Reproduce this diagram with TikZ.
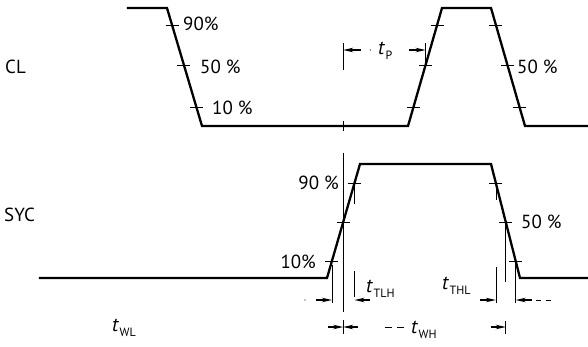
\documentclass[tikz,border=0pt]{standalone}
\usepackage{fontspec}
\setmainfont{PT Sans}
\usetikzlibrary{arrows.meta,calc}
\newcommand\tsym[1]{{\fontsize{20}{20}\selectfont\textit{t}}\kern0.5bp\raisebox{-4.5bp}{\fontsize{12}{12}\selectfont #1}}
\tikzset{
  wave/.style={line width=2.3bp, line join=miter, line cap=rect},
  thin/.style={line width=0.6bp},
  tick/.style={line width=0.6bp},
  dimarrow/.style={line width=1.2bp, -{Stealth[length=10bp,width=4.5bp]}},
  lbl/.style={inner sep=0pt, font=\fontsize{19}{19}\selectfont},
  lblw/.style={lbl, anchor=west},
  lble/.style={lbl, anchor=east},
}
\begin{document}
\begin{tikzpicture}[x=1bp,y=-1bp]
\useasboundingbox (0,0) rectangle (588,346);
% ---- CL waveform
\coordinate (cl0) at (128,8);
\coordinate (cl1) at (167,8);
\coordinate (cl2) at (202,126);
\coordinate (cl3) at (408,126);
\coordinate (cl4) at (442,8);
\coordinate (cl5) at (491,8);
\coordinate (cl6) at (525,126);
\coordinate (cl7) at (590,126);
\draw[wave] (cl0) -- (cl1) -- (cl2) -- (cl3) -- (cl4) -- (cl5) -- (cl6) -- (cl7);
% ticks on CL edges
\path (cl1) -- (cl2) coordinate[pos=0.144] (fa90) coordinate[pos=0.483] (fa50) coordinate[pos=0.839] (fa10);
\path (cl3) -- (cl4) coordinate[pos=0.856] (ra90) coordinate[pos=0.517] (ra50) coordinate[pos=0.161] (ra10);
\path (cl5) -- (cl6) coordinate[pos=0.144] (fb90) coordinate[pos=0.483] (fb50) coordinate[pos=0.839] (fb10);
\foreach \p in {fa90,fa50,fa10,ra90,ra50,ra10,fb90,fb50,fb10}
  \draw[tick] ([xshift=-6.5bp]\p) -- ([xshift=6.5bp]\p);
% ---- SYC waveform
\coordinate (sy0) at (40,278);
\coordinate (sy1) at (327,278);
\coordinate (sy2) at (360,164);
\coordinate (sy3) at (491,164);
\coordinate (sy4) at (520,278);
\coordinate (sy5) at (590,278);
\draw[wave] (sy0) -- (sy1) -- (sy2) -- (sy3) -- (sy4) -- (sy5);
\path (sy1) -- (sy2) coordinate[pos=0.833] (sr90) coordinate[pos=0.491] (sr50) coordinate[pos=0.149] (sr10);
\path (sy3) -- (sy4) coordinate[pos=0.167] (sf90) coordinate[pos=0.509] (sf50) coordinate[pos=0.851] (sf10);
\foreach \p in {sr90,sr50,sr10,sf90,sf50,sf10}
  \draw[tick] ([xshift=-6.5bp]\p) -- ([xshift=6.5bp]\p);
% ---- extension lines
\draw[thin] (sr50 |- 0,153) -- (sr50 |- 0,312);
\draw[thin] (sr50 |- 0,320) -- (sr50 |- 0,334);
\draw[thin] (sr50 |- 0,43) -- (sr50 |- 0,70);
\draw[thin] (sr50 |- 0,121) -- (sr50 |- 0,131);
\draw[thin] (ra50 |- 0,43) -- (ra50);
\draw[thin] (sr10 |- 0,265) -- (sr10 |- 0,303);
\draw[thin] (sr90) -- (sr90 |- 0,204);
\draw[thin] (sr90 |- 0,271) -- (sr90 |- 0,297);
\draw[thin] (sf90) -- (sf90 |- 0,200);
\draw[thin] (sf90 |- 0,267) -- (sf90 |- 0,303);
\draw[thin] (sf50) -- (sf50 |- 0,282);
\draw[thin] (sf50 |- 0,321) -- (sf50 |- 0,334);
\draw[thin] (sf10) -- (sf10 |- 0,303);
% ---- t_P
\coordinate (tpL) at (sr50 |- 0,50);
\coordinate (tpR) at (ra50 |- 0,50);
\draw[dimarrow] ([xshift=18bp]tpL) -- (tpL);
\draw[dimarrow] ([xshift=-17bp]tpR) -- (tpR);
\fill ([xshift=27bp]tpL) circle (0.6bp);
\node[lblw] (tp) at (378,51) {\tsym{P}};
% ---- t_TLH
\coordinate (tlL) at (sr10 |- 0,300);
\coordinate (tlR) at (sr90 |- 0,300);
\draw[dimarrow] ([xshift=-16bp]tlL) -- (tlL);
\fill ([xshift=-27bp]tlL) circle (0.6bp);
\draw[dimarrow] ([xshift=16bp]tlR) -- (tlR);
\node[lblw] (ttlh) at (366,289) {\tsym{TLH}};
% ---- t_THL
\coordinate (thL) at (sf90 |- 0,300);
\coordinate (thR) at (sf10 |- 0,300);
\draw[dimarrow] ([xshift=-16bp]thL) -- (thL);
\draw[dimarrow] ([xshift=16bp]thR) -- (thR);
\draw[thin, dash pattern=on 5bp off 5bp] ([xshift=20bp]thR) -- ([xshift=36bp]thR);
\node[lblw] (tthl) at (442,286) {\tsym{THL}};
% ---- t_WL / t_WH
\coordinate (wM) at (sr50 |- 0,327);
\coordinate (wR) at (sf50 |- 0,327);
\draw[dimarrow] ([xshift=-15bp]wM) -- (wM);
\draw[dimarrow] ([xshift=15bp]wM) -- (wM);
\draw[thin, dash pattern=on 7bp off 5bp] (385,327) -- (404,327);
\draw[dimarrow] ([xshift=-15bp]wR) -- (wR);
\node[lblw] (twl) at (112,328) {\tsym{WL}};
\node[lblw] (twh) at (411,330) {\tsym{WH}};
% ---- signal names
\node[lblw] (cl) at (5,67) {CL};
\node[lblw] (syc) at (4,215) {SYC};
% ---- percentage labels
\node[lblw] (p1) at (183,24) {90\%};
\node[lblw] (p2) at (200,67) {50 \%};
\node[lblw] (p3) at (212,108) {10 \%};
\node[lblw] (p4) at (517,67) {50 \%};
\node[lble] (p5) at (339,183) {90 \%};
\node[lble] (p6) at (316,262) {10\%};
\node[lblw] (p7) at (521,222) {50 \%};
\end{tikzpicture}
\end{document}
